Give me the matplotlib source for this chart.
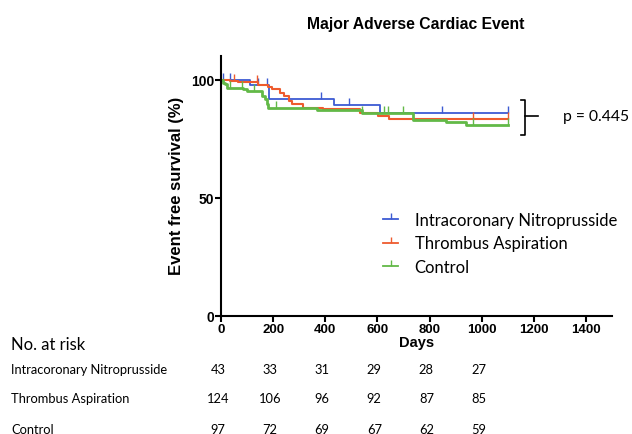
import numpy as np
import matplotlib
matplotlib.use("Agg")
import matplotlib.pyplot as plt
from matplotlib.lines import Line2D

# =========================
# data
# =========================
groups = ["Intracoronary Nitroprusside", "Thrombus Aspiration", "Control"]
colors = ["#3d5bd3", "#ee5b2e", "#62b947"]
widths = [1.3, 1.5, 2.0]

nitro_t = [0, 111, 186, 432, 609, 1100]
nitro_s = [100, 97.7, 92.0, 89.1, 86.0, 86.0]
nitro_cens = [9, 35, 141, 178, 382, 490, 849, 1100]

aspir_t = [0, 35, 66, 143, 181, 195, 227, 240, 259, 272, 316, 392, 535, 604, 643, 1100]
aspir_s = [100, 99.4, 99.0, 97.7, 96.9, 95.9, 94.5, 93.1, 90.9, 89.5, 88.1, 87.7, 86.0, 84.6, 83.5, 83.5]
aspir_cens = [50, 140, 965, 1100]

ctrl_t = [0, 6, 15, 22, 86, 99, 156, 169, 176, 182, 368, 541, 736, 864, 941, 1100]
ctrl_s = [100, 98.7, 98.0, 96.6, 95.9, 95.2, 93.1, 91.6, 89.5, 88.1, 87.1, 86.0, 83.1, 82.1, 80.7, 80.7]
ctrl_cens = [35, 80, 125, 210, 541, 624, 640, 699, 965, 1100]

risk_days = [0, 200, 400, 600, 800, 1000]
risk_nitro = [43, 33, 31, 29, 28, 27]
risk_aspir = [124, 106, 96, 92, 87, 85]
risk_ctrl = [97, 72, 69, 67, 62, 59]

p_text = "p = 0.445"

# =========================
# figure
# =========================
fig = plt.figure(figsize=(6.32, 4.35), dpi=100)
ax = fig.add_axes([221 / 632, 1 - 317 / 435, (612 - 221) / 632, (317 - 57) / 435])

curves = [(nitro_t, nitro_s, nitro_cens),
          (aspir_t, aspir_s, aspir_cens),
          (ctrl_t, ctrl_s, ctrl_cens)]

for (t, s, cens), col, lw in zip(curves, colors, widths):
    ax.step(t, s, where="post", color=col, lw=lw)
    # survival value at censor time (step function)
    idx = np.searchsorted(t, cens, side="right") - 1
    cy = np.array(s)[idx]
    ax.plot(cens, cy, ls="none", marker=2, ms=5, mew=1.0, color=col)

ax.set_xlim(0, 1500)
ax.set_ylim(0, 110)
ax.set_xticks([0, 200, 400, 600, 800, 1000, 1200, 1400])
ax.set_yticks([0, 50, 100])
for sp in ["top", "right"]:
    ax.spines[sp].set_visible(False)
for sp in ["left", "bottom"]:
    ax.spines[sp].set_linewidth(1.5)
ax.tick_params(width=1.5, length=4, direction="out")
for lab in ax.get_xticklabels():
    lab.set_fontfamily("Liberation Sans")
    lab.set_fontweight("bold")
    lab.set_fontsize(9.5)
for lab in ax.get_yticklabels():
    lab.set_fontfamily("Liberation Sans")
    lab.set_fontweight("bold")
    lab.set_fontsize(10)
ax.tick_params(axis="x", pad=1)
ax.tick_params(axis="y", pad=1)

ax.set_xlabel("Days", fontfamily="Liberation Sans", fontweight="bold", fontsize=10.5, labelpad=0)
fig.text(176 / 632, 1 - 186 / 435, "Event free survival (%)", rotation=90,
         ha="center", va="center", fontfamily="Liberation Sans", fontweight="bold", fontsize=12)
fig.text(416 / 632, 1 - 25 / 435, "Major Adverse Cardiac Event", ha="center", va="center",
         fontfamily="Liberation Sans", fontweight="bold", fontsize=11.3)

# legend
handles = [Line2D([], [], color=c, lw=1.3, marker=2, ms=4, mew=1.0) for c in colors]
fig.legend(handles, groups, loc="upper left", bbox_to_anchor=(368 / 632, 1 - 198 / 435),
           frameon=False, handlelength=0.9, handletextpad=1.0, labelspacing=0.45,
           prop={"family": "Lato", "size": 12})

# bracket + p value
bx, bl, br = 1165, 1150, 1215
btop, bbot, bmid = 91.2, 76.7, 84.6
ax.plot([bl, bx, bx, bl], [btop, btop, bbot, bbot], color="black", lw=1.2, clip_on=False)
ax.plot([bx, br], [bmid, bmid], color="black", lw=1.2, clip_on=False)
ax.text(1312, bmid, p_text, ha="left", va="center", fontfamily="Lato", fontsize=11.3, clip_on=False)

# =========================
# number at risk table
# =========================
fig.text(11 / 632, 1 - 345 / 435, "No. at risk", ha="left", va="center",
         fontfamily="Lato", fontsize=12)
row_y = [1 - 370 / 435, 1 - 399 / 435, 1 - 430 / 435]
trans = matplotlib.transforms.blended_transform_factory(ax.transData, fig.transFigure)
for name, vals, yy in zip(groups, [risk_nitro, risk_aspir, risk_ctrl], row_y):
    fig.text(11 / 632, yy, name, ha="left", va="center", fontfamily="Lato", fontsize=9.3)
    for d, v in zip(risk_days, vals):
        ax.text(d - 12, yy, str(v), transform=trans, ha="center", va="center",
                fontfamily="Lato", fontsize=9.3, clip_on=False)

fig.savefig("out.png", dpi=100)
